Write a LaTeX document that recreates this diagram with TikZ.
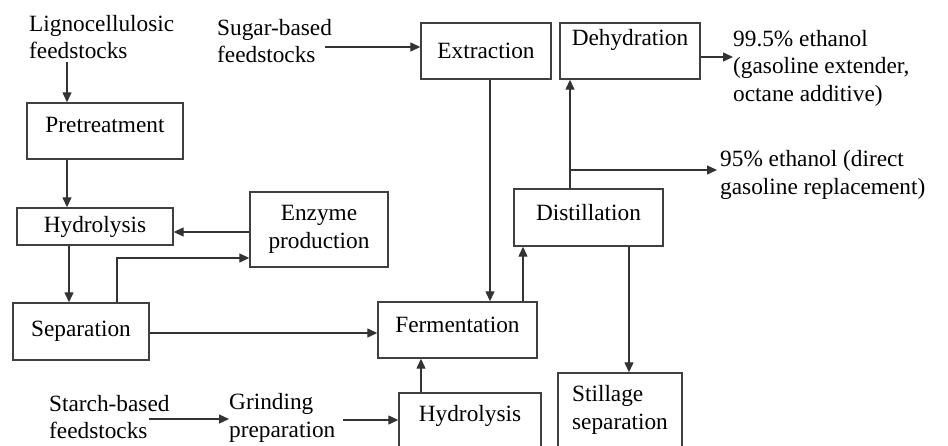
\documentclass[tikz,border=0pt]{standalone}
\usepackage{fontspec}
\setmainfont{Liberation Serif}
\usetikzlibrary{arrows.meta,calc}

\begin{document}
\begin{tikzpicture}[
		x=1pt,y=-1pt,
		box/.style={draw=black!75,line width=1.4pt,inner sep=2pt,align=center,
			font=\fontsize{23.3}{27.5}\selectfont},
		lab/.style={inner sep=0pt,align=left,anchor=west,
			font=\fontsize{23.3}{27.5}\selectfont},
		arr/.style={-{Triangle[length=10pt,width=9pt]},line width=1.3pt,black!80}
		]
		% ===== Frame =====
		\useasboundingbox (0,0) rectangle (948,445);
		\clip (0,0) rectangle (948,445);
		% ===== Lignocellulosic route =====
		\node[lab] (ligno) at (29,37) {Lignocellulosic\\feedstocks};
		\node[box,minimum width=156pt,minimum height=56pt,text depth=12pt] (pre) at (105,131) {Pretreatment};
		\node[box,minimum width=156pt,minimum height=37pt] (hyd) at (95,226.5) {Hydrolysis};
		\node[box,minimum width=138pt,minimum height=75pt] (enz) at (319,229.5) {Enzyme\\production};
		\node[box,minimum width=136pt,minimum height=57pt] (sep) at (81,331.5) {Separation};
		% ===== Sugar route =====
		\node[lab] (sugar) at (217,41) {Sugar-based\\feedstocks};
		\node[box,minimum width=130pt,minimum height=56pt] (ext) at (486,51) {Extraction};
		% ===== Starch route =====
		\node[lab] (starch) at (49,417) {Starch-based\\feedstocks};
		\node[lab] (grind) at (229,418) {Grinding\\preparation};
		\node[box,minimum width=142pt,minimum height=60pt,text depth=19pt] (hyd2) at (470,423) {Hydrolysis};
		% ===== Common steps =====
		\node[box,minimum width=159pt,minimum height=56pt,text depth=10pt] (ferm) at (457.5,330) {Fermentation};
		\node[box,minimum width=149pt,minimum height=57pt,text depth=10pt] (dist) at (588.5,217.5) {Distillation};
		\node[box,minimum width=140pt,minimum height=56pt,text depth=27pt] (deh) at (630,51) {Dehydration};
		\node[box,minimum width=124pt,minimum height=74pt,align=left] (still) at (620,410) {Stillage\\separation};
		% ===== Products =====
		\node[lab] (out995) at (733,68) {99.5\% ethanol\\(gasoline extender,\\octane additive)};
		\node[lab] (out95) at (720,175) {95\% ethanol (direct\\gasoline replacement)};
		% ===== Free ends =====
		\coordinate (lg) at (67,62);
		\coordinate (sg) at (325,47);
		\coordinate (st) at (149,419);
		\coordinate (gr) at (343,420);
		\coordinate (e995) at (733,57);
		\coordinate (e95) at (717,170);
		% ===== Connectors =====
		\draw[arr] (lg) -- (lg |- pre.north);
		\draw[arr] (pre.south -| lg) -- (hyd.north -| lg);
		\draw[arr] ([yshift=-2.5pt]enz.west) -- ([yshift=-2.5pt]enz.west -| hyd.east);
		\draw[arr] ([xshift=2pt]hyd.south -| lg) -- ([xshift=2pt]sep.north -| lg);
		\draw[arr] ([xshift=36pt]sep.north) |- ([yshift=-28.5pt]enz.west);
		\draw[arr] ([yshift=-1.5pt]sep.east) -- ([yshift=-1.5pt]sep.east -| ferm.west);
		\draw[arr] (sg) -- (sg -| ext.west);
		\draw[arr] ([xshift=4pt]ext.south) -- ([xshift=4pt]ext.south |- ferm.north);
		\draw[arr] ([xshift=65.5pt]ferm.north) -- ([xshift=65.5pt]ferm.north |- dist.south);
		\draw[arr] ([xshift=-18.5pt]dist.north) -- ([xshift=-18.5pt]dist.north |- deh.south);
		\draw[arr] (e95 -| deh.south) ++(-60,0) -- (e95);
		\draw[arr] (deh.east |- e995) -- (e995);
		\draw[arr] ([xshift=40.5pt]dist.south) -- ([xshift=40.5pt]dist.south |- still.north);
		\draw[arr] (st) -- (st -| grind.west);
		\draw[arr] (gr) -- (gr -| hyd2.west);
		\draw[arr] ([xshift=-49pt]hyd2.north) -- ([xshift=-49pt]hyd2.north |- ferm.south);
	\end{tikzpicture}
\end{document}
